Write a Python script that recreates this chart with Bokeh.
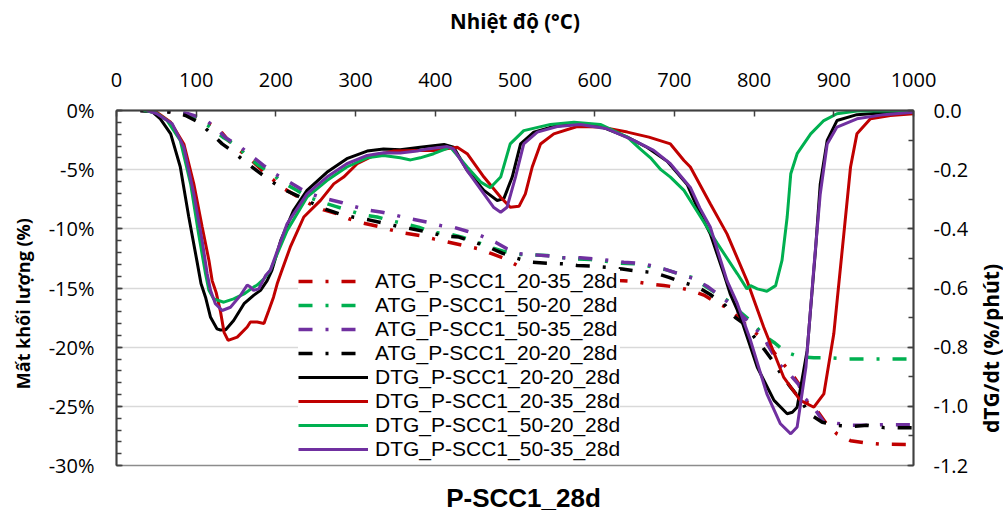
import math
from bokeh.plotting import figure
from bokeh.layouts import row, column
from bokeh.models import (Range1d, LinearAxis, FixedTicker, PrintfTickFormatter,
                          Legend, LegendItem, Label)
from bokeh.embed import file_html
from bokeh.resources import INLINE

# ---------------- data ----------------
x_ticks = list(range(0, 1001, 100))
left_ticks = list(range(-30, 1, 5))
right_ticks = [-1.2, -1.0, -0.8, -0.6, -0.4, -0.2, 0.0]

# ATG (mass loss, %) – dash-dot series
atg_2035_T = [30, 77, 95, 110, 127, 140, 155, 168, 180.7, 195, 210, 228.7, 243, 260, 277, 291.5, 310, 329, 343.8, 362.6, 381, 398, 417, 435.8, 454.6, 469, 488, 502.8, 519.4, 538, 555, 574, 594.7, 611, 630, 649, 668, 686.7, 703.5, 720, 737, 752, 764, 779, 791, 808.6, 820.6, 835, 848, 858, 866.6, 879, 890, 904, 921, 940, 958.6, 1000]
atg_2035_V = [0, -0.14, -0.5, -0.9, -1.46, -2.5, -3.4, -4.1, -4.93, -5.77, -6.6, -7.33, -7.9, -8.4, -8.73, -9.15, -9.52, -9.8, -10.08, -10.37, -10.57, -10.85, -11.13, -11.41, -11.69, -12.06, -12.54, -13.1, -13.58, -13.75, -13.95, -14.09, -14.09, -14.23, -14.37, -14.45, -14.65, -14.79, -14.94, -15.2, -15.6, -16.2, -16.6, -17.4, -18.2, -19.16, -20.06, -21.3, -22.3, -23.3, -24.66, -25.36, -26.4, -27.33, -27.9, -28.1, -28.2, -28.23]

atg_5020_T = [30, 70, 86.6, 100, 118, 134.6, 151.4, 162.7, 178.5, 195.4, 208, 226.7, 241, 258, 274.8, 291.5, 308, 327, 343.8, 362.6, 379, 398, 415, 433.7, 452.6, 469, 486, 503, 523.6, 540, 561, 576, 594.7, 613.5, 632, 653, 670, 689, 705.5, 724, 739, 753.7, 770, 783, 797.6, 812, 825, 839.4, 856, 875, 896, 917, 1000]
atg_5020_V = [0, -0.1, -0.3, -0.6, -1.41, -2.31, -2.96, -3.8, -4.65, -5.35, -6.06, -6.76, -7.33, -7.75, -8.1, -8.45, -8.8, -9.0, -9.3, -9.6, -9.86, -10.3, -10.4, -10.7, -11.13, -11.55, -11.9, -12.17, -12.2, -12.25, -12.45, -12.54, -12.6, -12.74, -12.9, -12.96, -13.18, -13.45, -13.8, -14.15, -14.85, -15.5, -16.2, -17.05, -17.9, -19.0, -19.6, -20.4, -20.8, -20.9, -20.9, -21.0, -21.0]

atg_5035_T = [30, 70, 90.7, 109.5, 124, 137, 153.4, 168, 184.8, 197.4, 214, 230.9, 243, 262, 281, 297.7, 314.5, 333.4, 352, 369, 390, 406.5, 423, 440, 457, 475.5, 490, 504.8, 525.7, 544.5, 561, 582, 601, 620, 636.5, 653, 670, 686.7, 705.5, 724, 741, 756, 770, 783, 797.6, 812, 820.6, 831, 846, 856, 862, 875, 887.5, 900, 921, 940, 958.6, 1000]
atg_5035_V = [0, -0.1, -0.28, -0.7, -1.41, -2.31, -2.96, -3.75, -4.65, -5.3, -5.92, -6.62, -7.04, -7.45, -7.75, -8.1, -8.4, -8.6, -8.88, -9.16, -9.44, -9.72, -9.86, -10.2, -10.57, -11.13, -11.69, -12.1, -12.2, -12.3, -12.45, -12.45, -12.54, -12.68, -12.82, -12.9, -13.1, -13.38, -13.8, -14.2, -14.85, -15.6, -16.34, -17.2, -18.17, -19.16, -20.2, -21.4, -22.4, -23.16, -24.2, -25.1, -26.35, -26.4, -26.6, -26.6, -26.55, -26.55]

atg_2020_T = [30, 68.6, 86.6, 103, 118, 132.6, 147, 162.7, 178.5, 193, 209, 226.7, 243, 261, 279, 297.7, 316.6, 335, 354, 373, 392, 411, 429.5, 448, 467, 484, 503, 519.5, 540, 561, 578, 598, 615.6, 634.5, 655, 674, 693, 712, 728.6, 745, 764, 776.6, 787, 802, 814, 825, 835, 846, 858, 868.6, 885.5, 904, 923, 942, 963, 1000]
atg_2020_V = [0, -0.14, -0.42, -0.99, -1.89, -2.82, -3.52, -4.4, -5.21, -5.92, -6.65, -7.19, -7.75, -8.31, -8.73, -9.02, -9.24, -9.52, -9.81, -10.03, -10.3, -10.6, -10.7, -11.1, -11.55, -12.06, -12.5, -12.8, -12.9, -12.96, -13.1, -13.16, -13.25, -13.4, -13.58, -13.7, -14.1, -14.55, -14.9, -15.55, -16.5, -17.5, -18.0, -19.3, -20.3, -21.3, -22.4, -23.4, -24.4, -25.6, -26.35, -26.6, -26.7, -26.6, -26.8, -26.8]

# DTG (%/phút) – solid series, right axis
dtg_2020_T = [35, 45, 55, 68, 80, 90.7, 101, 106, 111.7, 118, 126, 130.5, 137, 147, 160, 172, 180.7, 189, 195, 206, 222, 239, 264, 289, 314.5, 335, 356, 381, 411, 423, 440, 461, 477.7, 486, 496.5, 507, 523.6, 548.7, 578, 607, 641, 666, 691, 716, 729, 745, 762, 770, 783, 804, 825, 841.5, 848, 854, 866.6, 877, 883, 891.7, 904, 929, 963, 1000]
dtg_2020_V = [0, -0.005, -0.028, -0.079, -0.19, -0.36, -0.51, -0.585, -0.631, -0.699, -0.738, -0.742, -0.741, -0.71, -0.653, -0.625, -0.608, -0.575, -0.54, -0.44, -0.338, -0.27, -0.209, -0.163, -0.137, -0.13, -0.133, -0.124, -0.115, -0.124, -0.203, -0.27, -0.304, -0.298, -0.225, -0.113, -0.073, -0.054, -0.045, -0.054, -0.09, -0.125, -0.172, -0.25, -0.33, -0.417, -0.552, -0.62, -0.699, -0.868, -0.98, -1.025, -1.02, -1.003, -0.811, -0.473, -0.248, -0.101, -0.034, -0.014, -0.008, -0.006]

dtg_2035_T = [35, 50, 68, 84.5, 97, 107.5, 116, 120, 125, 130.5, 135, 140, 151.5, 164, 168, 176.5, 185, 191, 197, 201.6, 206, 218, 235, 256, 272.6, 285, 302, 323, 348, 377, 398, 427.5, 440, 461, 482, 494, 505, 513, 521.6, 532, 548.7, 578, 607, 641, 668, 695, 712, 720, 745, 766, 791, 812, 837, 858, 875, 887.5, 900, 912.6, 921, 929, 946, 971, 1000]
dtg_2035_V = [0, -0.005, -0.04, -0.113, -0.248, -0.394, -0.507, -0.575, -0.615, -0.68, -0.75, -0.777, -0.766, -0.732, -0.715, -0.715, -0.72, -0.676, -0.631, -0.586, -0.552, -0.462, -0.36, -0.304, -0.248, -0.225, -0.18, -0.152, -0.137, -0.135, -0.135, -0.124, -0.146, -0.225, -0.293, -0.327, -0.324, -0.282, -0.191, -0.113, -0.079, -0.054, -0.056, -0.073, -0.09, -0.113, -0.169, -0.191, -0.315, -0.417, -0.575, -0.732, -0.901, -0.98, -1.003, -0.958, -0.755, -0.417, -0.191, -0.079, -0.028, -0.017, -0.011]

dtg_5020_T = [34, 50, 63.6, 80, 93, 103, 111.7, 116, 122, 134.6, 147, 160, 172, 176.5, 185, 193, 214, 239, 264, 289, 314.5, 335, 356, 369, 381, 398, 419, 440, 457, 469, 482, 494, 511, 544.5, 574, 607, 641, 657, 670, 683, 695, 712, 733, 754, 779, 791, 795.5, 804, 816, 827, 835, 841.5, 846, 854, 871, 887.5, 904, 929, 1000]
dtg_5020_V = [0, -0.008, -0.034, -0.101, -0.248, -0.417, -0.552, -0.608, -0.637, -0.648, -0.637, -0.62, -0.597, -0.59, -0.569, -0.54, -0.406, -0.293, -0.237, -0.191, -0.16, -0.152, -0.16, -0.167, -0.16, -0.146, -0.124, -0.191, -0.242, -0.261, -0.225, -0.113, -0.068, -0.047, -0.04, -0.047, -0.09, -0.13, -0.16, -0.2, -0.225, -0.27, -0.36, -0.45, -0.552, -0.603, -0.592, -0.603, -0.611, -0.592, -0.507, -0.36, -0.214, -0.146, -0.079, -0.034, -0.011, -0.002, -0.002]

dtg_5035_T = [38, 50, 70, 84.5, 97, 107.5, 113.8, 118, 124, 132.6, 143, 155.6, 164, 168, 172, 178.5, 187, 193, 214, 239, 264, 289, 314.5, 335, 356, 377, 390, 415, 423, 440, 461, 473, 482, 490, 500.6, 511, 528, 553, 582, 615.7, 649, 674, 695, 720, 732, 745, 766, 779, 795.5, 816, 833, 846, 854, 865, 875, 883, 891.7, 904, 929, 963, 1000]
dtg_5035_V = [0, -0.01, -0.045, -0.124, -0.282, -0.44, -0.552, -0.608, -0.653, -0.676, -0.665, -0.625, -0.59, -0.597, -0.608, -0.603, -0.558, -0.54, -0.383, -0.282, -0.225, -0.18, -0.152, -0.143, -0.144, -0.137, -0.13, -0.122, -0.13, -0.203, -0.282, -0.327, -0.344, -0.327, -0.225, -0.113, -0.073, -0.054, -0.047, -0.062, -0.101, -0.135, -0.18, -0.26, -0.33, -0.394, -0.575, -0.653, -0.777, -0.958, -1.059, -1.093, -1.07, -0.868, -0.53, -0.282, -0.113, -0.056, -0.028, -0.014, -0.006]

RED, GREEN, PURPLE, BLACK = "#c00000", "#00b050", "#7030a0", "#000000"
TICK_FONT = "Open Sans"
AXIS_COL = "#404040"
MAIN_H = 480   # height of the main panel row (page y 0..480)


def strip(w, h):
    """A blank panel (no axes) whose frame fills it, used to hold a title text."""
    f = figure(width=w, height=h, output_backend="svg", toolbar_location=None,
               x_range=Range1d(0, w), y_range=Range1d(0, h),
               x_axis_location=None, y_axis_location=None, min_border=0)
    f.outline_line_color = None
    for g in f.grid:
        g.visible = False
    return f


# ---------------- main figure ----------------
p = figure(width=935, height=MAIN_H, output_backend="svg", toolbar_location=None,
           x_range=Range1d(0, 1000), y_range=Range1d(-30, 0),
           x_axis_location="above",
           min_border_left=76, min_border_right=62, min_border_top=110,
           min_border_bottom=MAIN_H - 465)
p.extra_y_ranges = {"dtg": Range1d(-1.2, 0)}
p.background_fill_color = "white"
p.outline_line_color = "#8c8c8c"
p.outline_line_width = 1.5

# top x axis
xa = p.xaxis[0]
xa.ticker = FixedTicker(ticks=x_ticks)
xa.axis_label = "Nhiệt độ (°C)"
xa.axis_label_text_font = TICK_FONT
xa.axis_label_text_font_style = "bold"
xa.axis_label_text_font_size = "20.5px"
xa.axis_label_text_color = "black"
xa.axis_label_standoff = 35

# left axis
ya = p.yaxis[0]
ya.ticker = FixedTicker(ticks=left_ticks, minor_ticks=list(range(-30, 1)))
ya.formatter = PrintfTickFormatter(format="%d%%")

# right axis
ra = LinearAxis(y_range_name="dtg")
ra.ticker = FixedTicker(ticks=right_ticks, minor_ticks=[round(-1.2 + 0.1 * i, 2) for i in range(13)])
ra.formatter = PrintfTickFormatter(format="%.1f")
p.add_layout(ra, "right")

for ax in (xa, ya, ra):
    ax.major_label_text_font = TICK_FONT
    ax.major_label_text_font_size = "20px"
    ax.major_label_text_color = "black"
    ax.axis_line_color = AXIS_COL
    ax.axis_line_width = 2
    ax.major_tick_line_color = AXIS_COL
    ax.major_tick_line_width = 1.5
    ax.major_tick_in = 6
    ax.major_tick_out = 0
    ax.minor_tick_line_color = AXIS_COL
    ax.minor_tick_line_width = 1.5
    ax.minor_tick_in = 5
    ax.minor_tick_out = 0
xa.major_label_standoff = 24
ya.major_label_standoff = 22
ra.major_label_standoff = 20
xa.minor_tick_line_color = None

p.xgrid.visible = False
p.ygrid.ticker = FixedTicker(ticks=left_ticks)
p.ygrid.grid_line_color = "#d9d9d9"
p.ygrid.grid_line_width = 1.5

DASH = "14 13 3 13"
atg = []
for T, V, c in [(atg_2035_T, atg_2035_V, RED), (atg_5020_T, atg_5020_V, GREEN),
                (atg_5035_T, atg_5035_V, PURPLE), (atg_2020_T, atg_2020_V, BLACK)]:
    atg.append(p.line(T, V, line_color=c, line_width=3.5, line_dash=DASH))

dtg = []
for T, V, c in [(dtg_2020_T, dtg_2020_V, BLACK), (dtg_2035_T, dtg_2035_V, RED),
                (dtg_5020_T, dtg_5020_V, GREEN), (dtg_5035_T, dtg_5035_V, PURPLE)]:
    dtg.append(p.line(T, V, line_color=c, line_width=3, y_range_name="dtg"))

labels_atg = ["ATG_P-SCC1_20-35_28d", "ATG_P-SCC1_50-20_28d", "ATG_P-SCC1_50-35_28d", "ATG_P-SCC1_20-20_28d"]
labels_dtg = ["DTG_P-SCC1_20-20_28d", "DTG_P-SCC1_20-35_28d", "DTG_P-SCC1_50-20_28d", "DTG_P-SCC1_50-35_28d"]
items = [LegendItem(label=l, renderers=[r]) for l, r in zip(labels_atg, atg)]
items += [LegendItem(label=l, renderers=[r]) for l, r in zip(labels_dtg, dtg)]

leg = Legend(items=items, location=(182, 4), padding=0, margin=0, spacing=0,
             glyph_width=70, glyph_height=22, label_height=22, label_standoff=7,
             label_text_font="Liberation Sans", label_text_font_size="21px",
             label_text_line_height=1.0,
             label_text_color="black", border_line_color=None,
             background_fill_color="white", background_fill_alpha=1.0)
p.add_layout(leg, "center")

# ---------------- title panels ----------------
left_panel = strip(40, MAIN_H)
left_panel.add_layout(Label(x=22, y=MAIN_H - 258, text="Mất khối lượng  (%)", angle=math.pi / 2,
                            text_align="center", text_baseline="middle",
                            text_font=TICK_FONT, text_font_style="bold",
                            text_font_size="18px", text_color="black"))

right_panel = strip(28, MAIN_H)
right_panel.add_layout(Label(x=15, y=MAIN_H - 318, text="dTG/dt  (%/phút)", angle=math.pi / 2,
                             text_align="center", text_baseline="middle",
                             text_font=TICK_FONT, text_font_style="bold",
                             text_font_size="21px", text_color="black"))

BOT_H = 513 - MAIN_H
bottom_panel = strip(1003, BOT_H)
bottom_panel.add_layout(Label(x=523, y=513 - 497.5, text="P-SCC1_28d",
                              text_align="center", text_baseline="middle",
                              text_font="Liberation Sans", text_font_style="bold",
                              text_font_size="26px", text_color="black"))

layout = column(row(left_panel, p, right_panel, spacing=0), bottom_panel, spacing=0)

open("out.html", "w").write(file_html(layout, INLINE))
